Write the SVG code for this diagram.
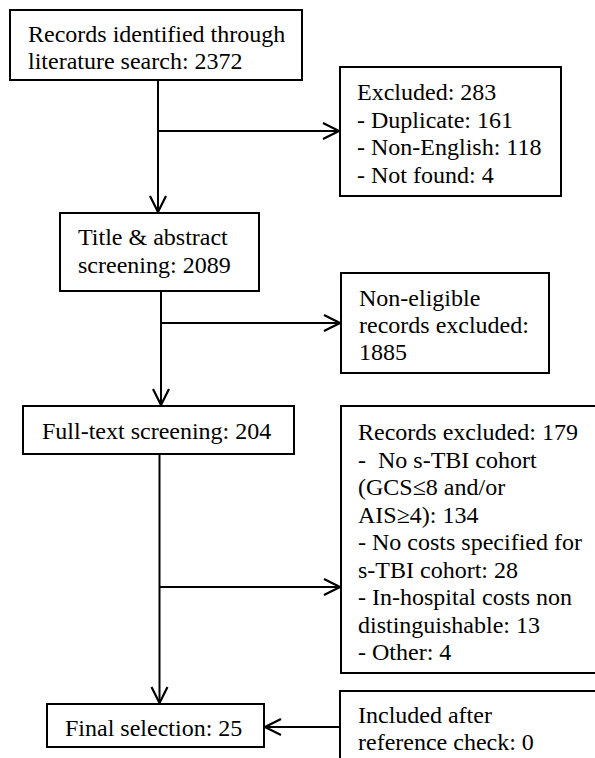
<svg xmlns="http://www.w3.org/2000/svg" width="595" height="758" viewBox="0 0 595 758">
<defs>
<style>
.box{fill:#fff;stroke:#000;stroke-width:2}
.t{font-family:"Liberation Serif","Times New Roman",serif;font-size:24px;fill:#000;white-space:pre}
.c{fill:none;stroke:#000;stroke-width:2}
</style>
<marker id="arr" viewBox="0 0 20 20" refX="18" refY="10" markerWidth="20" markerHeight="20" markerUnits="userSpaceOnUse" orient="auto">
<path d="M2,2 L18,10 L2,18" fill="none" stroke="#000" stroke-width="2.2"/>
</marker>
</defs>
<rect width="595" height="758" fill="#fff"/>
<g id="connectors">
<line class="c" x1="158" y1="80" x2="158" y2="212" marker-end="url(#arr)"/>
<line class="c" x1="158" y1="131" x2="339" y2="131" marker-end="url(#arr)"/>
<line class="c" x1="161" y1="291" x2="161" y2="405" marker-end="url(#arr)"/>
<line class="c" x1="161" y1="323" x2="340" y2="323" marker-end="url(#arr)"/>
<line class="c" x1="159.5" y1="454" x2="159.5" y2="703" marker-end="url(#arr)"/>
<line class="c" x1="159.5" y1="587" x2="340" y2="587" marker-end="url(#arr)"/>
<line class="c" x1="340" y1="727" x2="265" y2="727" marker-end="url(#arr)"/>
</g>
<g id="n1">
<rect class="box" x="10" y="10" width="292" height="70"/>
<text class="t" x="28" y="42">Records identified through</text>
<text class="t" x="28" y="69">literature search: 2372</text>
</g>
<g id="n2">
<rect class="box" x="340" y="67" width="221" height="129"/>
<text class="t" x="357" y="100">Excluded: 283</text>
<text class="t" x="357" y="127.5">- Duplicate: 161</text>
<text class="t" x="357" y="155">- Non-English: 118</text>
<text class="t" x="357" y="182.5">- Not found: 4</text>
</g>
<g id="n3">
<rect class="box" x="60" y="213" width="199" height="78"/>
<text class="t" x="78" y="245">Title &amp; abstract</text>
<text class="t" x="78" y="273">screening: 2089</text>
</g>
<g id="n4">
<rect class="box" x="341" y="273" width="208" height="100"/>
<text class="t" x="359" y="306">Non-eligible</text>
<text class="t" x="359" y="333">records excluded:</text>
<text class="t" x="359" y="360">1885</text>
</g>
<g id="n5">
<rect class="box" x="23" y="406" width="271" height="48"/>
<text class="t" x="42" y="439">Full-text screening: 204</text>
</g>
<g id="n6">
<rect class="box" x="341" y="406" width="270" height="267"/>
<text class="t" x="358" y="440">Records excluded: 179</text>
<text class="t" x="358" y="467.5">-  No s-TBI cohort</text>
<text class="t" x="358" y="495">(GCS≤8 and/or</text>
<text class="t" x="358" y="522.5">AIS≥4): 134</text>
<text class="t" x="358" y="550">- No costs specified for</text>
<text class="t" x="358" y="577.5">s-TBI cohort: 28</text>
<text class="t" x="358" y="605">- In-hospital costs non</text>
<text class="t" x="358" y="632.5">distinguishable: 13</text>
<text class="t" x="358" y="660">- Other: 4</text>
</g>
<g id="n7">
<rect class="box" x="47" y="704" width="217" height="43"/>
<text class="t" x="65" y="736">Final selection: 25</text>
</g>
<g id="n8">
<rect class="box" x="340" y="691" width="270" height="80"/>
<text class="t" x="358" y="723">Included after</text>
<text class="t" x="358" y="750">reference check: 0</text>
</g>
</svg>
